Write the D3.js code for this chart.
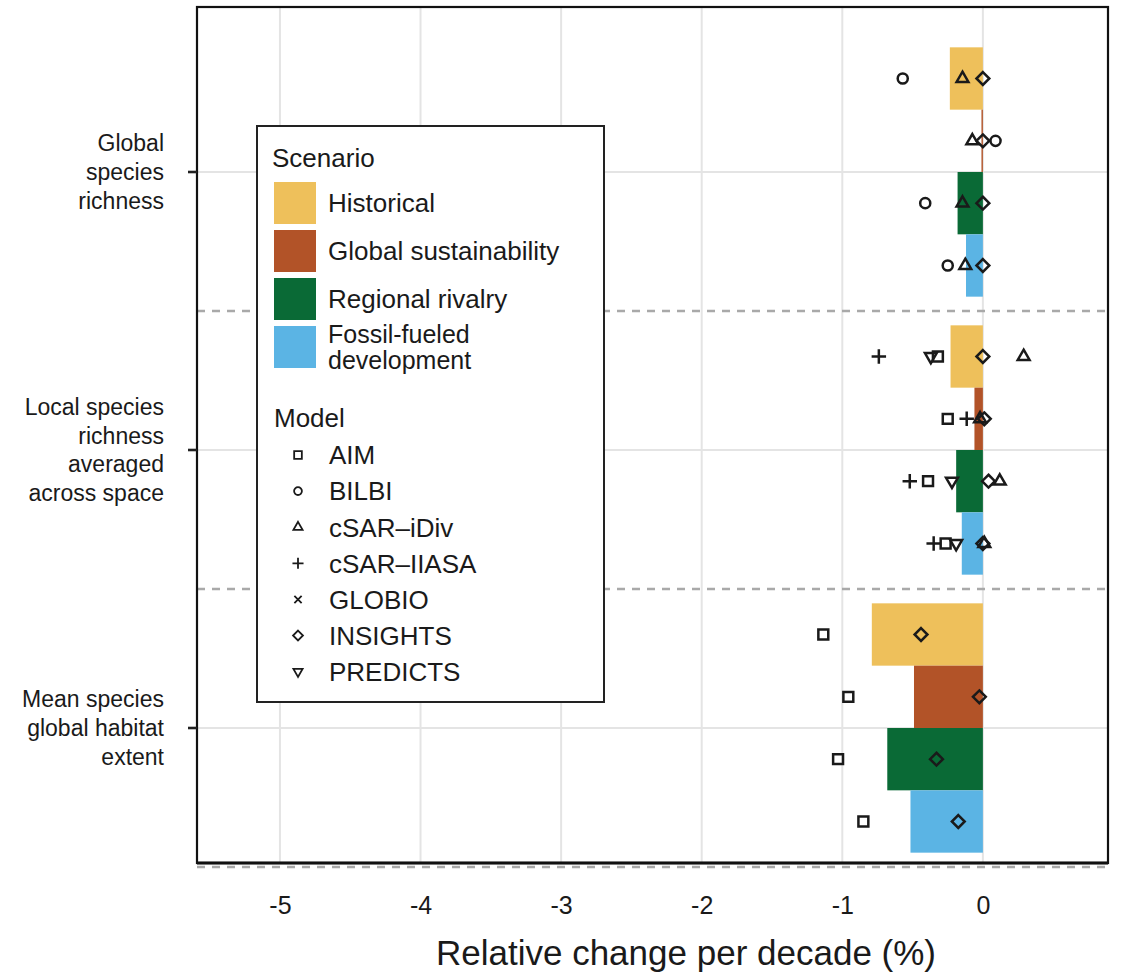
<!DOCTYPE html>
<html>
<head>
<meta charset="utf-8">
<script src="https://cdn.jsdelivr.net/npm/d3@7"></script>
<style>
  body { margin: 0; background: #fff; }
  text { font-family: "Liberation Sans", Arial, sans-serif; fill: #1a1a1a; }
</style>
</head>
<body>
<div id="chart"></div>
<script>
// ---- data ----
const indicators = [
  "Global\nspecies\nrichness",
  "Local species\nrichness\naveraged\nacross space",
  "Mean species\nglobal habitat\nextent"
];
const scenarios = ["Historical", "Global sustainability", "Regional rivalry", "Fossil-fueled\ndevelopment"];
const scenarioColors = ["#EEC05B", "#B25328", "#0A6A36", "#5BB4E4"];
const models = ["AIM", "BILBI", "cSAR\u2013iDiv", "cSAR\u2013IIASA", "GLOBIO", "INSIGHTS", "PREDICTS"];
const xTicks = [-5, -4, -3, -2, -1, 0];

// bar values: one row per indicator, one value per scenario
const barValues = [
  [-0.235, -0.01, -0.18, -0.12],
  [-0.23, -0.06, -0.19, -0.15],
  [-0.79, -0.49, -0.68, -0.515]
];

// model estimates: row = indicator, column = scenario (null = no estimate)
const aimVals = [
  [null, null, null, null],
  [-0.32, -0.25, -0.39, -0.265],
  [-1.135, -0.957, -1.03, -0.85]
];
const bilbiVals = [
  [-0.57, 0.09, -0.41, -0.25],
  [null, null, null, null],
  [null, null, null, null]
];
const csarIdivVals = [
  [-0.145, -0.075, -0.145, -0.125],
  [0.29, -0.02, 0.12, 0.01],
  [null, null, null, null]
];
const csarIiasaVals = [
  [null, null, null, null],
  [-0.74, -0.115, -0.52, -0.35],
  [null, null, null, null]
];
const globioVals = [
  [null, null, null, null],
  [null, null, null, null],
  [null, null, null, null]
];
const insightsVals = [
  [0, 0, 0, 0],
  [0, 0.01, 0.04, 0],
  [-0.44, -0.025, -0.33, -0.175]
];
const predictsVals = [
  [null, null, null, null],
  [-0.37, null, -0.22, -0.19],
  [null, null, null, null]
];
const modelVals = [aimVals, bilbiVals, csarIdivVals, csarIiasaVals, globioVals, insightsVals, predictsVals];

// ---- layout ----
const svgWidth = 1122;
const svgHeight = 973;

const margin = { top: 7, right: 14, bottom: 110, left: 197 };
const width = svgWidth - margin.left - margin.right;
const height = svgHeight - margin.top - margin.bottom;

// symbol for each model: [type, size, rotation]
const modelShapes = [
  [d3.symbolSquare2, 125, 0],
  [d3.symbolCircle, 80, 0],
  [d3.symbolTriangle2, 100, 0],
  [d3.symbolPlus, 70, 0],
  [d3.symbolTimes, 60, 0],
  [d3.symbolDiamond2, 105, 0],
  [d3.symbolTriangle2, 100, 180]
];

const svg = d3.select("#chart")
  .append("svg")
  .attr("width", svgWidth)
  .attr("height", svgHeight);

const chartGroup = svg.append("g")
  .attr("transform", `translate(${margin.left}, ${margin.top})`);

// scales
const xScale = d3.scaleLinear()
  .domain([-5.59, 0.89])
  .range([0, width]);

const yOuter = d3.scaleBand()
  .domain(indicators)
  .range([26, 860])
  .padding(0);

const yInner = d3.scaleBand()
  .domain(scenarios)
  .range([0, yOuter.bandwidth()])
  .paddingInner(0)
  .paddingOuter(0.23);

// grid
chartGroup.append("g")
  .selectAll("line")
  .data(xTicks)
  .enter()
  .append("line")
  .attr("x1", d => xScale(d))
  .attr("x2", d => xScale(d))
  .attr("y1", 0)
  .attr("y2", height)
  .attr("stroke", "#e4e4e4")
  .attr("stroke-width", 2);

chartGroup.append("g")
  .selectAll("line")
  .data(indicators)
  .enter()
  .append("line")
  .attr("x1", 0)
  .attr("x2", width)
  .attr("y1", d => yOuter(d) + yOuter.bandwidth() / 2)
  .attr("y2", d => yOuter(d) + yOuter.bandwidth() / 2)
  .attr("stroke", "#e4e4e4")
  .attr("stroke-width", 2);

// dashed facet separators
chartGroup.append("g")
  .selectAll("line")
  .data(indicators)
  .enter()
  .append("line")
  .attr("x1", 0)
  .attr("x2", width)
  .attr("y1", d => yOuter(d) + yOuter.bandwidth())
  .attr("y2", d => yOuter(d) + yOuter.bandwidth())
  .attr("stroke", "#a9a9a9")
  .attr("stroke-width", 2.5)
  .attr("stroke-dasharray", "8,7");

// bars
const barData = [];
indicators.forEach((ind, i) => {
  scenarios.forEach((sc, j) => {
    barData.push({ ind: ind, sc: sc, v: barValues[i][j], color: scenarioColors[j] });
  });
});

chartGroup.append("g")
  .selectAll("rect")
  .data(barData)
  .enter()
  .append("rect")
  .attr("x", d => xScale(Math.min(0, d.v)))
  .attr("width", d => Math.abs(xScale(d.v) - xScale(0)))
  .attr("y", d => yOuter(d.ind) + yInner(d.sc))
  .attr("height", yInner.bandwidth())
  .attr("fill", d => d.color);

// model points
const pointData = [];
models.forEach((m, k) => {
  indicators.forEach((ind, i) => {
    scenarios.forEach((sc, j) => {
      const v = modelVals[k][i][j];
      if (v !== null) pointData.push({ k: k, ind: ind, sc: sc, v: v });
    });
  });
});

chartGroup.append("g")
  .selectAll("path")
  .data(pointData)
  .enter()
  .append("path")
  .attr("d", d => d3.symbol(modelShapes[d.k][0], modelShapes[d.k][1])())
  .attr("transform", d => `translate(${xScale(d.v)}, ${yOuter(d.ind) + yInner(d.sc) + yInner.bandwidth() / 2}) rotate(${modelShapes[d.k][2]})`)
  .attr("fill", "none")
  .attr("stroke", "#1a1a1a")
  .attr("stroke-width", 2.5);

// frame
chartGroup.append("rect")
  .attr("x", 0)
  .attr("y", 0)
  .attr("width", width)
  .attr("height", height)
  .attr("fill", "none")
  .attr("stroke", "#111")
  .attr("stroke-width", 2.2);

chartGroup.append("line")
  .attr("x1", 0)
  .attr("x2", width)
  .attr("y1", height)
  .attr("y2", height)
  .attr("stroke", "#111")
  .attr("stroke-width", 3.2);

// x axis
const bottomAxis = d3.axisBottom(xScale)
  .tickValues(xTicks)
  .tickSize(0)
  .tickPadding(33)
  .tickFormat(d => String(d));

const xAxisGroup = chartGroup.append("g")
  .attr("transform", `translate(0, ${height})`)
  .call(bottomAxis);
xAxisGroup.select(".domain").remove();
xAxisGroup.selectAll("text").style("font-size", "25px");

// y axis with multi-line labels
const leftAxis = d3.axisLeft(yOuter)
  .tickSize(9)
  .tickPadding(24);

const yAxisGroup = chartGroup.append("g").call(leftAxis);
yAxisGroup.select(".domain").remove();
yAxisGroup.selectAll(".tick line")
  .attr("stroke", "#222")
  .attr("stroke-width", 2.6);
yAxisGroup.selectAll(".tick text")
  .style("font-size", "23px")
  .attr("dy", null)
  .each(function (d) {
    const lines = d.split("\n");
    const el = d3.select(this).text(null);
    const lh = 28.7;
    lines.forEach((line, n) => {
      el.append("tspan")
        .attr("x", -33)
        .attr("y", (n - (lines.length - 1) / 2) * lh)
        .attr("dy", "0.35em")
        .text(line);
    });
  });

// axis title
svg.append("text")
  .attr("x", 686)
  .attr("y", 965)
  .attr("text-anchor", "middle")
  .style("font-size", "35px")
  .text("Relative change per decade (%)");

// ---- legend ----
const legend = svg.append("g");

legend.append("rect")
  .attr("x", 257)
  .attr("y", 126)
  .attr("width", 347)
  .attr("height", 576)
  .attr("fill", "#fff")
  .attr("stroke", "#222")
  .attr("stroke-width", 2);

legend.append("text")
  .attr("x", 272)
  .attr("y", 167)
  .style("font-size", "26px")
  .text("Scenario");

scenarios.forEach((sc, j) => {
  const top = 182 + j * 48;
  legend.append("rect")
    .attr("x", 274)
    .attr("y", top)
    .attr("width", 42)
    .attr("height", 42)
    .attr("fill", scenarioColors[j]);
  const lines = sc.split("\n");
  lines.forEach((line, n) => {
    legend.append("text")
      .attr("x", 328)
      .attr("y", top + 21 + (n - (lines.length - 1) / 2) * 26)
      .attr("dy", "0.36em")
      .style("font-size", lines.length > 1 ? "25px" : "26px")
      .text(line);
  });
});

legend.append("text")
  .attr("x", 274)
  .attr("y", 427)
  .style("font-size", "26px")
  .text("Model");

models.forEach((m, k) => {
  const cy = 455 + k * 36.1;
  legend.append("path")
    .attr("d", d3.symbol(modelShapes[k][0], modelShapes[k][1] * 0.6)())
    .attr("transform", `translate(298, ${cy}) rotate(${modelShapes[k][2]})`)
    .attr("fill", "none")
    .attr("stroke", "#1a1a1a")
    .attr("stroke-width", 1.8);
  legend.append("text")
    .attr("x", 329)
    .attr("y", cy)
    .attr("dy", "0.36em")
    .style("font-size", "26px")
    .text(m);
});
</script>
</body>
</html>
